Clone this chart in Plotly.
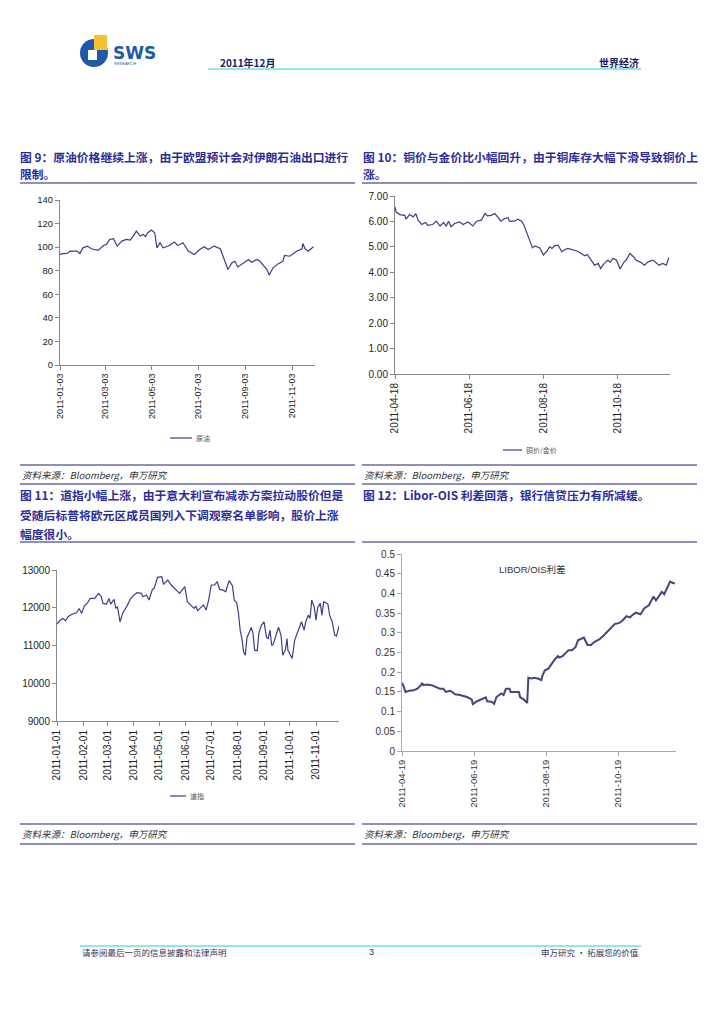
import plotly.graph_objects as go

W, H = 717, 1015

# ---------------- data ----------------
oil_dates = ["2011-01-03","2011-01-07","2011-01-12","2011-01-16","2011-01-25","2011-01-29","2011-02-02","2011-02-08",
             "2011-02-13","2011-02-22","2011-03-01","2011-03-05","2011-03-09","2011-03-14","2011-03-19","2011-03-25",
             "2011-03-31","2011-04-05","2011-04-09","2011-04-13","2011-04-18","2011-04-22","2011-04-25","2011-04-28",
             "2011-05-03","2011-05-07","2011-05-10","2011-05-14","2011-05-18","2011-05-25","2011-06-02","2011-06-06",
             "2011-06-09","2011-06-13","2011-06-20","2011-06-28","2011-07-05","2011-07-11","2011-07-16","2011-07-24",
             "2011-08-01","2011-08-05","2011-08-11","2011-08-16","2011-08-20","2011-08-24","2011-08-31","2011-09-07",
             "2011-09-11","2011-09-18","2011-09-22","2011-09-26","2011-10-01","2011-10-04","2011-10-07","2011-10-09",
             "2011-10-16","2011-10-22","2011-10-24","2011-10-31","2011-11-09","2011-11-16","2011-11-17","2011-11-20",
             "2011-11-24","2011-12-01"]
oil_values = [93.8,94.5,94.6,96.6,96.6,94.6,99.4,100.9,
              98.6,97.2,101.4,102.5,106.5,107.1,100.9,105.1,
              106.5,106.0,109.4,113.6,109.4,110.8,109.0,112.2,
              114.5,112.2,99.4,103.7,99.4,100.9,104.3,101.5,
              102.3,103.7,96.6,93.8,98.0,100.3,98.0,100.9,
              98.6,90.9,81.0,86.6,88.0,83.2,86.6,89.5,
              87.2,89.5,88.0,85.2,81.0,76.4,80.0,82.4,
              86.0,88.0,92.9,92.3,96.6,98.6,103.1,98.6,
              96.6,100.3]

cg_dates = ["2011-04-18","2011-04-19","2011-04-22","2011-04-26","2011-04-27","2011-04-30","2011-05-03","2011-05-05",
            "2011-05-07","2011-05-10","2011-05-13","2011-05-15","2011-05-19","2011-05-22","2011-05-25","2011-05-28",
            "2011-05-30","2011-06-01","2011-06-03","2011-06-06","2011-06-10","2011-06-13","2011-06-17","2011-06-21",
            "2011-06-24","2011-06-28","2011-07-01","2011-07-03","2011-07-06","2011-07-09","2011-07-12","2011-07-14",
            "2011-07-17","2011-07-20","2011-07-21","2011-07-25","2011-07-28","2011-07-31","2011-08-02","2011-08-05",
            "2011-08-07","2011-08-09","2011-08-11","2011-08-15","2011-08-18","2011-08-21","2011-08-23","2011-08-25",
            "2011-08-27","2011-08-30","2011-09-02","2011-09-04","2011-09-07","2011-09-11","2011-09-15","2011-09-18",
            "2011-09-21","2011-09-23","2011-09-26","2011-09-29","2011-10-02","2011-10-04","2011-10-07","2011-10-10",
            "2011-10-12","2011-10-14","2011-10-17","2011-10-20","2011-10-23","2011-10-25","2011-10-28","2011-10-31",
            "2011-11-02","2011-11-06","2011-11-09","2011-11-12","2011-11-16","2011-11-19","2011-11-21","2011-11-24",
            "2011-11-27","2011-11-29"]
cg_values = [6.57,6.37,6.27,6.24,6.09,6.27,6.18,6.31,
             6.05,5.88,5.96,5.85,5.88,6.01,5.82,5.96,
             5.82,6.01,5.79,5.92,5.98,5.88,5.98,5.82,
             6.01,6.05,6.31,6.22,6.24,6.31,6.14,6.01,
             6.11,6.15,6.01,6.01,6.09,6.01,5.85,5.46,
             5.26,4.96,5.04,4.96,4.68,4.83,5.00,4.94,
             5.04,5.07,4.81,4.88,4.94,4.88,4.83,4.74,
             4.65,4.70,4.48,4.28,4.35,4.15,4.35,4.48,
             4.39,4.54,4.48,4.13,4.39,4.48,4.74,4.61,
             4.48,4.39,4.28,4.41,4.48,4.35,4.28,4.35,
             4.28,4.57]

dow_dates = ["2011-01-01","2011-01-04","2011-01-08","2011-01-11","2011-01-14","2011-01-18","2011-01-24","2011-01-27",
             "2011-01-30","2011-02-02","2011-02-06","2011-02-09","2011-02-14","2011-02-19","2011-02-22","2011-02-24",
             "2011-02-28","2011-03-03","2011-03-05","2011-03-09","2011-03-11","2011-03-13","2011-03-16","2011-03-19",
             "2011-03-24","2011-03-28","2011-04-01","2011-04-05","2011-04-10","2011-04-12","2011-04-16","2011-04-19",
             "2011-04-23","2011-04-25","2011-04-29","2011-05-04","2011-05-06","2011-05-09","2011-05-11","2011-05-15",
             "2011-05-20","2011-05-25","2011-05-31","2011-06-03","2011-06-07","2011-06-11","2011-06-13","2011-06-15",
             "2011-06-19","2011-06-22","2011-06-25","2011-06-28","2011-07-01","2011-07-05","2011-07-08","2011-07-11",
             "2011-07-15","2011-07-18","2011-07-22","2011-07-26","2011-07-28","2011-07-31","2011-08-02","2011-08-04",
             "2011-08-06","2011-08-08","2011-08-10","2011-08-12","2011-08-15","2011-08-17","2011-08-19","2011-08-21",
             "2011-08-24","2011-08-26","2011-08-29","2011-09-01","2011-09-04","2011-09-06","2011-09-08","2011-09-10",
             "2011-09-12","2011-09-15","2011-09-18","2011-09-21","2011-09-23","2011-09-26","2011-09-28","2011-09-29",
             "2011-10-02","2011-10-04","2011-10-07","2011-10-11","2011-10-15","2011-10-18","2011-10-20","2011-10-23",
             "2011-10-25","2011-10-27","2011-10-30","2011-11-01","2011-11-03","2011-11-06","2011-11-08","2011-11-10",
             "2011-11-15","2011-11-17","2011-11-20","2011-11-23","2011-11-25","2011-11-28"]
dow_values = [11566,11655,11717,11655,11761,11823,11867,11982,
              11850,12044,12133,12248,12248,12381,12292,12115,
              12097,12248,12097,12221,11982,12027,11628,11850,
              12044,12221,12336,12398,12381,12292,12336,12204,
              12487,12513,12805,12823,12619,12690,12735,12602,
              12487,12381,12558,12159,12071,11982,12044,11920,
              12009,12071,11938,12204,12602,12602,12690,12487,
              12469,12425,12717,12575,12204,12133,11850,11407,
              11186,10832,10743,11212,11363,11478,11336,10876,
              10858,11336,11540,11628,11212,11186,11407,10999,
              11044,11292,11487,11265,10743,10876,11186,10876,
              10717,10655,11142,11407,11628,11407,11628,11805,
              11717,12204,12009,11673,12009,12115,11805,12159,
              12097,11805,11628,11274,11248,11513]

libor_dates = ["2011-04-19","2011-04-20","2011-04-22","2011-04-25","2011-04-29","2011-05-02","2011-05-05","2011-05-06",
               "2011-05-07","2011-05-10","2011-05-14","2011-05-17","2011-05-21","2011-05-24","2011-05-26","2011-05-30",
               "2011-06-03","2011-06-07","2011-06-13","2011-06-17","2011-06-18","2011-06-22","2011-06-26","2011-06-29",
               "2011-06-30","2011-07-04","2011-07-06","2011-07-08","2011-07-12","2011-07-14","2011-07-16","2011-07-19",
               "2011-07-20","2011-07-24","2011-07-27","2011-07-28","2011-07-31","2011-08-03","2011-08-04","2011-08-07",
               "2011-08-09","2011-08-12","2011-08-15","2011-08-16","2011-08-18","2011-08-21","2011-08-23","2011-08-26",
               "2011-08-29","2011-08-30","2011-09-02","2011-09-04","2011-09-07","2011-09-10","2011-09-13","2011-09-15",
               "2011-09-17","2011-09-20","2011-09-23","2011-09-26","2011-09-29","2011-10-03","2011-10-07","2011-10-10",
               "2011-10-13","2011-10-16","2011-10-20","2011-10-23","2011-10-26","2011-10-29","2011-10-31","2011-11-03",
               "2011-11-07","2011-11-10","2011-11-14","2011-11-18","2011-11-20","2011-11-23","2011-11-25","2011-11-27",
               "2011-11-30","2011-12-02","2011-12-04","2011-12-06"]
libor_values = [0.173,0.167,0.150,0.153,0.154,0.158,0.167,0.173,
                0.167,0.169,0.167,0.163,0.158,0.158,0.150,0.153,
                0.144,0.142,0.137,0.131,0.119,0.127,0.133,0.136,
                0.126,0.125,0.120,0.137,0.146,0.142,0.158,0.158,
                0.150,0.150,0.150,0.137,0.131,0.122,0.186,0.184,
                0.186,0.184,0.180,0.192,0.205,0.209,0.218,0.231,
                0.241,0.237,0.241,0.247,0.256,0.256,0.264,0.281,
                0.283,0.288,0.269,0.269,0.277,0.283,0.294,0.303,
                0.314,0.322,0.325,0.332,0.342,0.339,0.345,0.351,
                0.347,0.362,0.370,0.392,0.382,0.394,0.404,0.398,
                0.417,0.430,0.427,0.425]

oil_xticks = ["2011-01-03","2011-03-03","2011-05-03","2011-07-03","2011-09-03","2011-11-03"]
oil_yticks = [0, 20, 40, 60, 80, 100, 120, 140]
cg_xticks = ["2011-04-18","2011-06-18","2011-08-18","2011-10-18"]
cg_yticks = [0, 1, 2, 3, 4, 5, 6, 7]
dow_xticks = ["2011-01-01","2011-02-01","2011-03-01","2011-04-01","2011-05-01","2011-06-01",
              "2011-07-01","2011-08-01","2011-09-01","2011-10-01","2011-11-01"]
dow_yticks = [9000, 10000, 11000, 12000, 13000]
dow_yticktext = ["9000", "10000", "11000", "12000", "13000"]
libor_xticks = ["2011-04-19","2011-06-19","2011-08-19","2011-10-19"]
libor_yticks = [0, 0.05, 0.1, 0.15, 0.2, 0.25, 0.3, 0.35, 0.4, 0.45, 0.5]
libor_yticktext = ["0","0.05","0.1","0.15","0.2","0.25","0.3","0.35","0.4","0.45","0.5"]

# ---------------- helpers ----------------
def fx(px):
    return px / W

def fy(py):
    return 1 - py / H

LINE = "#3c3c8c"
TITLE = "#2d2d9a"
RULE = "#6a6aa6"
CJK = "Noto Sans CJK SC"
ARIAL = "Liberation Sans, Arial"

fig = go.Figure()
fig.add_trace(go.Scatter(x=oil_dates, y=oil_values, mode="lines", line=dict(color=LINE, width=1.2),
                         xaxis="x", yaxis="y", showlegend=False))
fig.add_trace(go.Scatter(x=cg_dates, y=cg_values, mode="lines", line=dict(color=LINE, width=1.2),
                         xaxis="x2", yaxis="y2", showlegend=False))
fig.add_trace(go.Scatter(x=dow_dates, y=dow_values, mode="lines", line=dict(color=LINE, width=1.2),
                         xaxis="x3", yaxis="y3", showlegend=False))
fig.add_trace(go.Scatter(x=libor_dates, y=libor_values, mode="lines", line=dict(color="#45457f", width=2),
                         xaxis="x4", yaxis="y4", showlegend=False))

def xax(dom, rng, ticks, anchor, size, color="#222", linecolor="#888"):
    return dict(domain=[fx(dom[0]), fx(dom[1])], range=rng, type="date", anchor=anchor,
                tickmode="array", tickvals=ticks, ticktext=ticks, tickangle=-90,
                tickfont=dict(family=ARIAL, size=size, color=color),
                showline=True, linecolor=linecolor, linewidth=1, ticks="outside", ticklen=4,
                tickcolor=linecolor, showgrid=False, zeroline=False, automargin=False)

def yax(dom, rng, ticks, anchor, size, text=None, fmt=None, color="#222", linecolor="#888"):
    d = dict(domain=[fy(dom[0]), fy(dom[1])], range=rng, anchor=anchor,
             tickmode="array", tickvals=ticks,
             tickfont=dict(family=ARIAL, size=size, color=color),
             showline=True, linecolor=linecolor, linewidth=1, ticks="outside", ticklen=4,
             tickcolor=linecolor, showgrid=False, zeroline=False, automargin=False)
    if text is not None:
        d["ticktext"] = text
    if fmt is not None:
        d["tickformat"] = fmt
    return d

fig.update_layout(
    width=W, height=H, margin=dict(l=0, r=0, t=0, b=0),
    paper_bgcolor="white", plot_bgcolor="rgba(0,0,0,0)", showlegend=False,
    xaxis=xax((60, 315), ["2011-01-03", "2011-12-03"], oil_xticks, "y", 9),
    yaxis=yax((365, 200), [0, 140], oil_yticks, "x", 9.5),
    xaxis2=xax((395, 670), ["2011-04-18", "2011-11-30"], cg_xticks, "y2", 10),
    yaxis2=yax((374, 196), [0, 7], cg_yticks, "x2", 10, fmt=".2f"),
    xaxis3=xax((57, 339), ["2011-01-01", "2011-11-28"], dow_xticks, "y3", 10),
    yaxis3=yax((721, 570), [9000, 13000], dow_yticks, "x3", 10, text=dow_yticktext),
    xaxis4=xax((402, 676), ["2011-04-19", "2011-12-07"], libor_xticks, "y4", 9.5, color="#333", linecolor="#aaa"),
    yaxis4=yax((751, 554), [0, 0.5], libor_yticks, "x4", 10, text=libor_yticktext, color="#333", linecolor="#aaa"),
)

shapes = []
ann = []

def hline(x0, x1, y, color, width):
    shapes.append(dict(type="line", xref="paper", yref="paper", x0=fx(x0), x1=fx(x1), y0=fy(y), y1=fy(y),
                       line=dict(color=color, width=width)))

def text(x, y, s, size, color="#222", anchor="left", family=CJK, bold=False, italic=False):
    if bold:
        s = "<b>" + s + "</b>"
    if italic:
        s = "<i>" + s + "</i>"
    ann.append(dict(xref="paper", yref="paper", x=fx(x), y=fy(y), text=s, showarrow=False,
                    xanchor=anchor, yanchor="middle", font=dict(family=family, size=size, color=color)))

# header
shapes.append(dict(type="circle", xref="paper", yref="paper", x0=fx(80), x1=fx(108), y0=fy(67), y1=fy(39),
                   fillcolor="#1e5aa8", line=dict(width=0)))
shapes.append(dict(type="rect", xref="paper", yref="paper", x0=fx(94), x1=fx(107), y0=fy(50), y1=fy(35),
                   fillcolor="#f2c230", line=dict(width=0)))
shapes.append(dict(type="rect", xref="paper", yref="paper", x0=fx(88), x1=fx(97), y0=fy(60), y1=fy(50),
                   fillcolor="white", line=dict(width=0)))
text(111, 53, "SWS", 17, color="#1e5aa8", family="DejaVu Sans", bold=True)
text(112, 64, "RESEARCH", 4, color="#1e5aa8", family=ARIAL)
hline(208, 641, 69, "#8fe8ea", 2)
text(218, 62, "2011年12月", 10, color="#1a1a5e", bold=True)
text(641, 62, "世界经济", 10, color="#1a1a5e", anchor="right", bold=True)

# titles
text(18, 156, "图 9：原油价格继续上涨，由于欧盟预计会对伊朗石油出口进行", 11.8, color=TITLE, bold=True)
text(18, 173, "限制。", 11.8, color=TITLE, bold=True)
text(361, 156, "图 10：铜价与金价比小幅回升，由于铜库存大幅下滑导致铜价上", 11.8, color=TITLE, bold=True)
text(361, 173, "涨。", 11.8, color=TITLE, bold=True)
text(18, 495, "图 11：道指小幅上涨，由于意大利宣布减赤方案拉动股价但是", 11.8, color=TITLE, bold=True)
text(18, 514, "受随后标普将欧元区成员国列入下调观察名单影响，股价上涨", 11.8, color=TITLE, bold=True)
text(18, 533, "幅度很小。", 11.8, color=TITLE, bold=True)
text(361, 495, "图 12：Libor-OIS 利差回落，银行信贷压力有所减缓。", 11.8, color=TITLE, bold=True)

# rules
for y in (183, 465, 484, 542, 824, 844):
    hline(20, 355, y, RULE, 1.5)
    hline(362, 697, y, RULE, 1.5)

# sources
for (x, y) in ((20, 475), (362, 475), (20, 834), (362, 834)):
    text(x, y, "资料来源：Bloomberg，申万研究", 9.5, color="#333", italic=True)

# legends (line sample + label)
for (x0, x1, y, label) in ((170, 192, 438, "原油"), (503, 522, 450, "铜价/金价"), (170, 186, 796, "道指")):
    hline(x0, x1, y, LINE, 1.2)
    text(x1 + 2, y, label, 7, color="#555")

text(532, 569, "LIBOR/OIS利差", 9.5, color="#333", anchor="center", family="Liberation Sans, " + CJK)

# footer
hline(80, 641, 946, "#8fe8ea", 2)
text(80, 952, "请参阅最后一页的信息披露和法律声明", 8.5, color="#333355")
text(371, 952, "3", 9, color="#333355", anchor="center", family=ARIAL)
text(641, 952, "申万研究 · 拓展您的价值", 8.5, color="#333355", anchor="right")

fig.update_layout(shapes=shapes, annotations=ann)
fig.write_html("out.html", config={"displayModeBar": False},
               post_script="document.body.style.margin='0';document.body.style.padding='0';")
